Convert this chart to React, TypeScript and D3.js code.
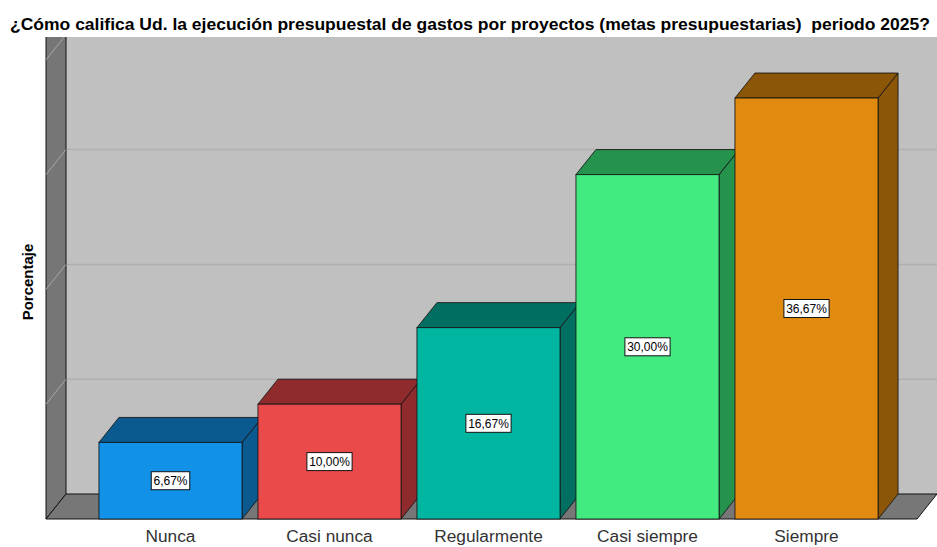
import React from 'react';
import { scaleBand, scaleLinear } from 'd3';

const categories = ['Nunca', 'Casi nunca', 'Regularmente', 'Casi siempre', 'Siempre'];
const percents = [6.67, 10.0, 16.67, 30.0, 36.67];
const valueLabels = ['6,67%', '10,00%', '16,67%', '30,00%', '36,67%'];
const frontColors = ['#1192e8', '#eb4a4b', '#00b6a0', '#43ea80', '#e08a10'];
const sideColors = ['#0b5a8f', '#8f2a2d', '#006e60', '#25924e', '#8b5608'];
const gridValues = [10, 20, 30, 40];
const title = '¿Cómo califica Ud. la ejecución presupuestal de gastos por proyectos (metas presupuestarias)  periodo 2025?';

const W = 937;
const H = 547;
const DX = 20;
const DY = -25;
const floorFront = 519;
const wallLeft = 46;
const plotRight = 917;
const clipTop = 37;

const App = () => {
  const x = scaleBand<string>()
    .domain(categories)
    .range([91, 886])
    .paddingInner(0.1)
    .paddingOuter(0.05);
  const y = scaleLinear().domain([0, 40]).range([floorFront, floorFront - 40 * 11.48]);
  const bw = x.bandwidth();
  const edge = 'rgba(20,20,20,0.85)';

  const pts = (arr: number[][]) => arr.map(p => p.join(',')).join(' ');

  return (
    <svg width={W} height={H} style={{ position: 'absolute', left: 0, top: 0, background: '#fff' }}
      fontFamily="'Liberation Sans', Arial, sans-serif">
      <defs>
        <clipPath id="plotClip">
          <rect x={0} y={clipTop} width={W} height={H - clipTop} />
        </clipPath>
      </defs>
      <text x={10} y={30} fontSize={17} fontWeight="bold" fill="#000"
        textLength={920} lengthAdjust="spacingAndGlyphs" style={{ whiteSpace: 'pre' }}>
        {title}
      </text>
      <text transform={`translate(33,282) rotate(-90)`} textAnchor="middle" fontSize={15} fontWeight="bold" fill="#000">
        Porcentaje
      </text>
      <g clipPath="url(#plotClip)">
        {/* back wall */}
        <rect x={wallLeft + DX} y={0} width={W - wallLeft - DX} height={floorFront + DY} fill="#c0c0c0" />
        {gridValues.map(v => (
          <line key={'g' + v} x1={wallLeft + DX} x2={W} y1={y(v) + DY} y2={y(v) + DY} stroke="#b0b0b0" strokeWidth={1.5} />
        ))}
        {/* left wall */}
        <polygon points={pts([[wallLeft, floorFront], [wallLeft + DX, floorFront + DY], [wallLeft + DX, 0], [wallLeft, 0]])}
          fill="#767676" stroke="#111" strokeWidth={1} />
        {gridValues.map(v => (
          <line key={'lw' + v} x1={wallLeft} y1={y(v)} x2={wallLeft + DX} y2={y(v) + DY} stroke="#a8a8a8" strokeWidth={1} />
        ))}
        {/* floor */}
        <polygon points={pts([[wallLeft, floorFront], [plotRight, floorFront], [plotRight + DX, floorFront + DY], [wallLeft + DX, floorFront + DY]])}
          fill="#777777" stroke="#111" strokeWidth={1} />
        {/* bars */}
        {categories.map((c, i) => {
          const x0 = x(c) as number;
          const x1 = x0 + bw;
          const yt = y(percents[i]);
          const yb = y(0);
          return (
            <g key={c}>
              <polygon points={pts([[x1, yt], [x1 + DX, yt + DY], [x1 + DX, yb + DY], [x1, yb]])}
                fill={sideColors[i]} stroke={edge} strokeWidth={1} />
              <polygon points={pts([[x0, yt], [x0 + DX, yt + DY], [x1 + DX, yt + DY], [x1, yt]])}
                fill={sideColors[i]} stroke={edge} strokeWidth={1} />
              <rect x={x0} y={yt} width={bw} height={yb - yt} fill={frontColors[i]} stroke={edge} strokeWidth={1} />
            </g>
          );
        })}
        {categories.map((c, i) => {
          const cx = (x(c) as number) + bw / 2;
          const cy = (y(percents[i]) + y(0)) / 2;
          const tw = valueLabels[i].length * 6.7 + 5;
          return (
            <g key={'l' + c}>
              <rect x={cx - tw / 2} y={cy - 9} width={tw} height={18} fill="#fff" stroke="#111" strokeWidth={1} />
              <text x={cx} y={cy + 4.5} textAnchor="middle" fontSize={12} fill="#000">{valueLabels[i]}</text>
            </g>
          );
        })}
      </g>
      {categories.map(c => (
        <text key={'c' + c} x={(x(c) as number) + bw / 2} y={542} textAnchor="middle" fontSize={17.3} fill="#333">
          {c}
        </text>
      ))}
    </svg>
  );
};

export default App;
